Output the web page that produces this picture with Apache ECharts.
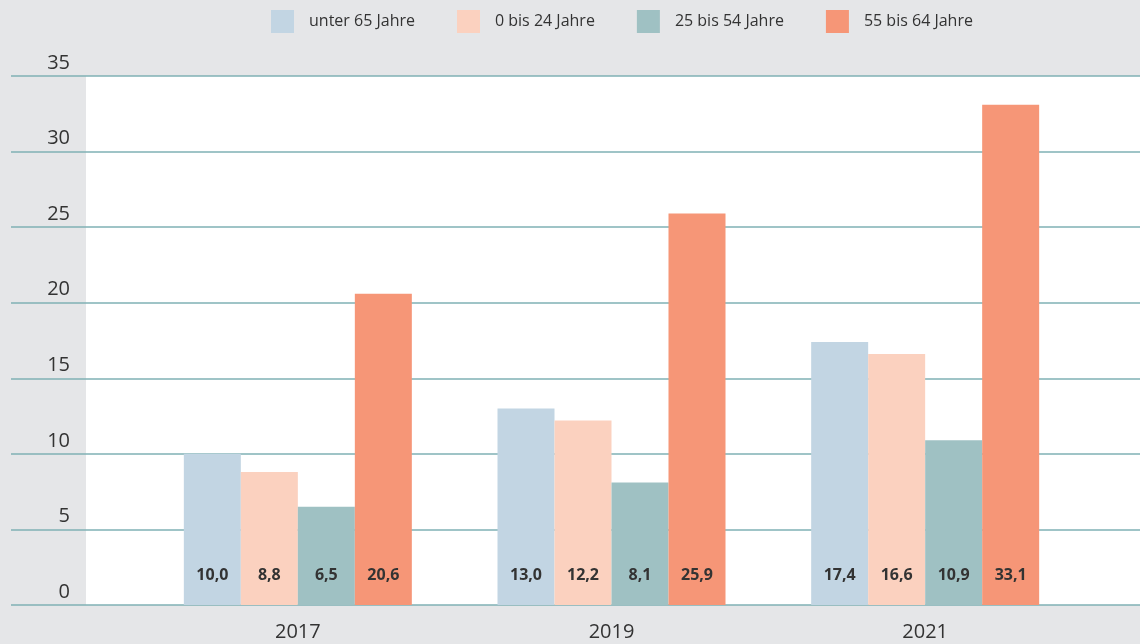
<!DOCTYPE html>
<html><head><meta charset="utf-8">
<script src="https://cdn.jsdelivr.net/npm/echarts@6/dist/echarts.min.js"></script>
<style>html,body{margin:0;padding:0;background:#e5e6e8}#c{width:1140px;height:644px}</style>
</head><body><div id="c"></div>
<script>
const categories = ['2017', '2019', '2021'];
const seriesNames = ['unter 65 Jahre', '0 bis 24 Jahre', '25 bis 54 Jahre', '55 bis 64 Jahre'];
const unter65 = [10.0, 13.0, 17.4];
const bis24 = [8.8, 12.2, 16.6];
const bis54 = [6.5, 8.1, 10.9];
const bis64 = [20.6, 25.9, 33.1];
const colors = ['#c2d5e3', '#fbd1bf', '#9fc1c3', '#f69677'];
const yTicks = [0, 5, 10, 15, 20, 25, 30, 35];

const font = '"Open Sans", "Noto Sans", sans-serif';
const values = [unter65, bis24, bis54, bis64];
const chart = echarts.init(document.getElementById('c'), null, {renderer: 'canvas'});
chart.setOption({
  backgroundColor: '#e5e6e8',
  animation: false,
  textStyle: {fontFamily: font},
  legend: {
    top: 5, left: 266, itemWidth: 23, itemHeight: 23, itemGap: 42, icon: 'rect',
    textStyle: {fontSize: 16, color: '#333', fontFamily: font, padding: [0, 0, 0, 10]},
    data: seriesNames
  },
  grid: [
    {left: 11, right: 0, top: 76, bottom: 39},
    {left: 86, right: 0, top: 76, bottom: 39, show: true, backgroundColor: '#ffffff', borderWidth: 0},
    {left: 141, right: 58, top: 76, bottom: 39}
  ],
  xAxis: [
    {gridIndex: 0, type: 'category', data: categories, show: false},
    {gridIndex: 1, type: 'category', data: categories, show: false},
    {gridIndex: 2, type: 'category', data: categories,
     axisLine: {show: false}, axisTick: {show: false},
     axisLabel: {fontSize: 20, color: '#333', margin: 17, fontFamily: font}}
  ],
  yAxis: [
    {gridIndex: 0, type: 'value', min: 0, max: 35, interval: 5,
     axisLabel: {show: false}, axisLine: {show: false}, axisTick: {show: false},
     splitLine: {show: true, lineStyle: {color: '#7fb0b5', width: 1.5}}},
    {gridIndex: 1, type: 'value', min: 0, max: 35, interval: 5,
     splitLine: {show: false}, axisLine: {show: false}, axisTick: {show: false},
     axisLabel: {fontSize: 20, color: '#333', margin: 16, verticalAlign: 'bottom', lineHeight: 26,
       fontFamily: font,
       formatter: v => yTicks.includes(v) ? String(v) : ''}},
    {gridIndex: 2, type: 'value', min: 0, max: 35, interval: 5, show: false}
  ],
  series: seriesNames.map((name, i) => ({
    name, type: 'bar', xAxisIndex: 2, yAxisIndex: 2,
    data: values[i], barWidth: 57, barGap: '0%',
    itemStyle: {color: colors[i]},
    label: {show: true, position: 'insideBottom', distance: 22, fontSize: 16, fontWeight: 'bold',
      color: '#333', fontFamily: font,
      formatter: p => p.value.toFixed(1).replace('.', ',')}
  }))
});
</script></body></html>
